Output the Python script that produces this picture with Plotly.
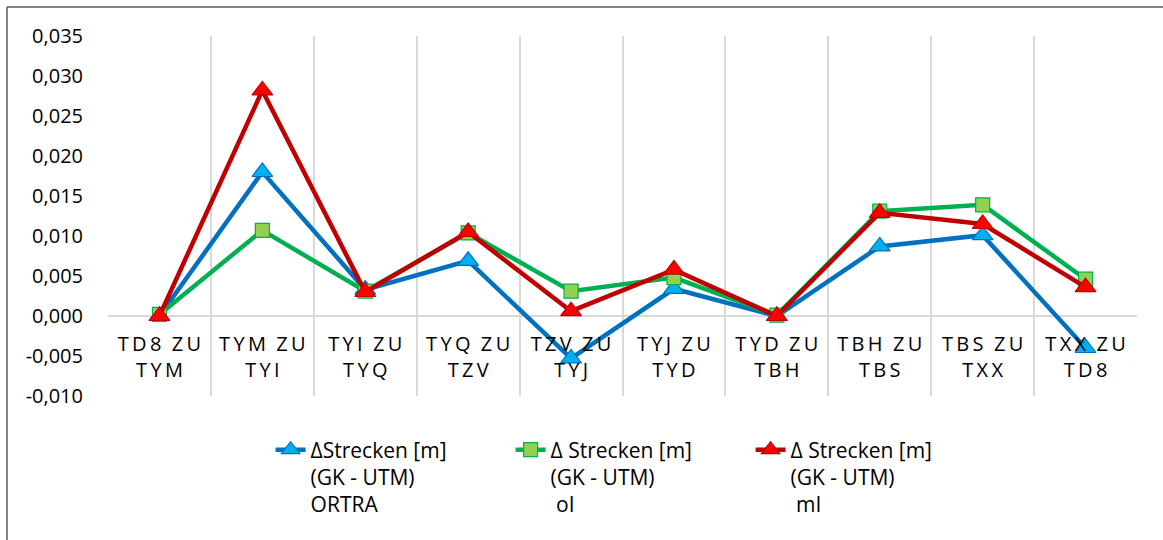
import plotly.graph_objects as go

# Strecken-Paare (von / zu)
von = ["TD8", "TYM", "TYI", "TYQ", "TZV", "TYJ", "TYD", "TBH", "TBS", "TXX"]
zu = ["TYM", "TYI", "TYQ", "TZV", "TYJ", "TYD", "TBH", "TBS", "TXX", "TD8"]

# Differenzen der Strecken GK - UTM in Metern
d_ortra = [0.0, 0.0180, 0.0033, 0.0069, -0.0053, 0.0034, 0.0, 0.0087, 0.0101, -0.0040]
d_oI = [0.0002, 0.0107, 0.0031, 0.0104, 0.0031, 0.0048, 0.0001, 0.0131, 0.0139, 0.0046]
d_mI = [0.0, 0.0282, 0.0030, 0.0105, 0.0006, 0.0058, 0.0, 0.0129, 0.0115, 0.0036]

# Y-Achse
y_ticks = [-0.010, -0.005, 0.000, 0.005, 0.010, 0.015, 0.020, 0.025, 0.030, 0.035]
y_labels = ["-0,010", "-0,005", "0,000", "0,005", "0,010", "0,015",
            "0,020", "0,025", "0,030", "0,035"]

series_names = [
    "ΔStrecken [m]<br>(GK - UTM)<br>ORTRA",
    "Δ Strecken [m]<br>(GK - UTM)<br>\u00a0oI",
    "Δ Strecken [m]<br>(GK - UTM)<br>\u00a0mI",
]

THIN = "\u2009"


def gesperrt(text):
    # letter-spaced label words
    return "  ".join(THIN.join(word) for word in text.split(" "))


categories = [f"{a} ZU {b}" for a, b in zip(von, zu)]
tick_text = [gesperrt(f"{a} ZU") + "<br>" + gesperrt(b) for a, b in zip(von, zu)]

FONT = "Open Sans"

fig = go.Figure()
styles = [
    dict(line="#0070C0", fill="#00B0F0", symbol="triangle-up", size=18),
    dict(line="#00B050", fill="#92D050", symbol="square", size=14),
    dict(line="#C00000", fill="#FF0000", symbol="triangle-up", size=18),
]
for vals, name, st in zip([d_ortra, d_oI, d_mI], series_names, styles):
    fig.add_trace(go.Scatter(
        x=categories, y=vals, name=name, mode="lines+markers",
        line=dict(color=st["line"], width=4.5),
        marker=dict(symbol=st["symbol"], size=st["size"], color=st["fill"],
                    line=dict(color=st["line"], width=1.2)),
    ))

y_min, y_max = -0.010, 0.035

fig.update_layout(
    width=1163, height=540,
    margin=dict(l=108, r=26, t=36, b=144),
    paper_bgcolor="white", plot_bgcolor="white",
    font=dict(family=FONT, size=20, color="#000000"),
    showlegend=True,
    legend=dict(
        orientation="h", x=0.158, y=-0.093, xanchor="left", yanchor="top",
        font=dict(family=FONT, size=21, color="#000000"),
        valign="top", entrywidth=195, entrywidthmode="pixels",
        traceorder="normal", bgcolor="rgba(0,0,0,0)",
    ),
    xaxis=dict(
        type="category", range=[-0.5, 9.5],
        tickmode="array", tickvals=categories, ticktext=tick_text,
        tickson="boundaries", ticks="",
        showgrid=True, gridcolor="#D9D9D9", gridwidth=2,
        showline=False, zeroline=False,
        anchor="free", position=(0 - y_min) / (y_max - y_min),
        tickfont=dict(family=FONT, size=20, color="#000000"),
        ticklabelstandoff=14,
    ),
    yaxis=dict(
        range=[y_min, y_max], tickmode="array",
        tickvals=y_ticks, ticktext=y_labels,
        showgrid=False, zeroline=True, zerolinecolor="#D9D9D9", zerolinewidth=2,
        showline=False, ticks="",
        tickfont=dict(family=FONT, size=20, color="#000000"),
        ticklabelstandoff=24,
    ),
    shapes=[
        # chart frame (top and left edge)
        dict(type="line", xref="paper", yref="paper",
             x0=(7 - 108) / 1029, x1=(1170 - 108) / 1029,
             y0=(396 - 7) / 360, y1=(396 - 7) / 360,
             line=dict(color="#595959", width=1.5)),
        dict(type="line", xref="paper", yref="paper",
             x0=(7 - 108) / 1029, x1=(7 - 108) / 1029,
             y0=(396 - 7) / 360, y1=(396 - 560) / 360,
             line=dict(color="#595959", width=1.5)),
    ],
)

fig.write_html("out.html")
